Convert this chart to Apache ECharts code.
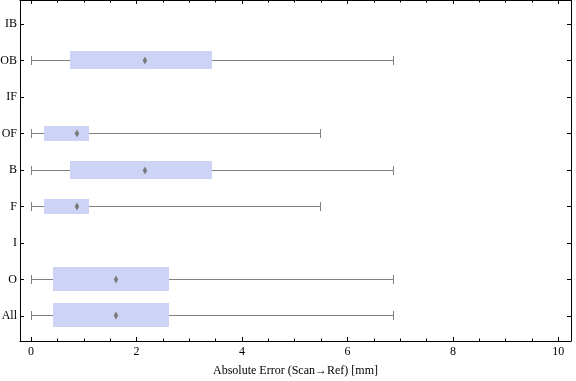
<!DOCTYPE html>
<html>
<head>
<meta charset="utf-8">
<script src="https://cdn.jsdelivr.net/npm/echarts@6/dist/echarts.min.js"></script>
<style>
html,body{margin:0;padding:0;background:#fff;}
#main{width:576px;height:381px;}
</style>
</head>
<body>
<div id="main"></div>
<script>
// Categories listed bottom to top
const categories = ['All', 'O', 'I', 'F', 'B', 'OF', 'IF', 'OB', 'IB'];
const whiskerLow  = [0,    0,    null, 0,     0,    0,     null, 0,    null];
const q1          = [0.41, 0.41, null, 0.24,  0.735,0.24,  null, 0.735,null];
const median      = [1.61, 1.61, null, 0.87,  2.16, 0.87,  null, 2.16, null];
const q3          = [2.61, 2.61, null, 1.095, 3.43, 1.095, null, 3.43, null];
const whiskerHigh = [6.86, 6.86, null, 5.48,  6.86, 5.48,  null, 6.86, null];
const xTickLabels = [0, 2, 4, 6, 8, 10];
const xMinorTicks = [0.5, 1, 1.5, 2.5, 3, 3.5, 4.5, 5, 5.5, 6.5, 7, 7.5, 8.5, 9, 9.5];

// style: relative box thickness per category (fraction of category spacing)
const boxThickness = {All: 0.66, O: 0.66, F: 0.41, OF: 0.41, B: 0.5, OB: 0.5};

const data = [];
categories.forEach((c, i) => {
  if (whiskerLow[i] !== null) {
    data.push([i, whiskerLow[i], q1[i], median[i], q3[i], whiskerHigh[i]]);
  }
});

const FONT = '"Liberation Serif", "DejaVu Serif", serif';
const XMIN = -0.21, XMAX = 10.24;
const YMIN = -0.685, YMAX = 8.658;
const catIdx = categories.map((c, i) => i);

function renderItem(params, api) {
  const i = api.value(0);
  const pLo = api.coord([api.value(1), i]);
  const pQ1 = api.coord([api.value(2), i]);
  const pMed = api.coord([api.value(3), i]);
  const pQ3 = api.coord([api.value(4), i]);
  const pHi = api.coord([api.value(5), i]);
  const band = Math.abs(api.size([0, 1])[1]);
  const y = Math.floor(pLo[1]) + 0.5;
  const h = boxThickness[categories[i]] * band;
  const xl = Math.round(pLo[0]) + 0.5;
  const xh = Math.round(pHi[0]) + 0.5;
  const grey = '#808080';
  return {
    type: 'group',
    children: [
      {type: 'line', shape: {x1: xl, y1: y, x2: xh, y2: y}, style: {stroke: grey, lineWidth: 1}},
      {type: 'line', shape: {x1: xl, y1: y - 4.5, x2: xl, y2: y + 4.5}, style: {stroke: grey, lineWidth: 1}},
      {type: 'line', shape: {x1: xh, y1: y - 4.5, x2: xh, y2: y + 4.5}, style: {stroke: grey, lineWidth: 1}},
      {type: 'rect', shape: {x: Math.round(pQ1[0]), y: Math.round(y - h / 2), width: Math.round(pQ3[0]) - Math.round(pQ1[0]), height: Math.round(h)},
        style: {fill: '#ccd3f4'}},
      {type: 'polygon', shape: {points: [[pMed[0], y - 4], [pMed[0] + 2.2, y], [pMed[0], y + 4], [pMed[0] - 2.2, y]]},
        style: {fill: '#7a7a7a'}}
    ]
  };
}

const chart = echarts.init(document.getElementById('main'), null, {renderer: 'canvas'});
chart.setOption({
  animation: false,
  backgroundColor: '#fff',
  grid: {left: 20, right: 5, top: 0, bottom: 40, containLabel: false, outerBoundsMode: 'none'},
  xAxis: [
    {
      type: 'value', position: 'bottom', min: XMIN, max: XMAX,
      axisLine: {show: true, onZero: false, lineStyle: {color: '#000', width: 1}},
      axisTick: {show: true, inside: true, length: 4, customValues: xTickLabels, lineStyle: {color: '#000'}},
      axisLabel: {show: true, customValues: xTickLabels, margin: 5, color: '#000', fontFamily: FONT, fontSize: 12},
      splitLine: {show: false},
      name: 'Absolute Error (Scan\u2192Ref) [mm]', nameLocation: 'middle', nameGap: 24,
      nameTextStyle: {color: '#000', fontFamily: FONT, fontSize: 12}
    },
    {
      type: 'value', position: 'bottom', min: XMIN, max: XMAX,
      axisLine: {show: false, onZero: false},
      axisTick: {show: true, inside: true, length: 2.5, customValues: xMinorTicks, lineStyle: {color: '#000'}},
      axisLabel: {show: false}, splitLine: {show: false}
    },
    {
      type: 'value', position: 'top', min: XMIN, max: XMAX,
      axisLine: {show: true, onZero: false, lineStyle: {color: '#000', width: 1}},
      axisTick: {show: true, inside: true, length: 4, customValues: xTickLabels, lineStyle: {color: '#000'}},
      axisLabel: {show: false}, splitLine: {show: false}
    },
    {
      type: 'value', position: 'top', min: XMIN, max: XMAX,
      axisLine: {show: false, onZero: false},
      axisTick: {show: true, inside: true, length: 2.5, customValues: xMinorTicks, lineStyle: {color: '#000'}},
      axisLabel: {show: false}, splitLine: {show: false}
    }
  ],
  yAxis: [
    {
      type: 'value', position: 'left', min: YMIN, max: YMAX,
      axisLine: {show: true, onZero: false, lineStyle: {color: '#000', width: 1}},
      axisTick: {show: true, inside: true, length: 4, customValues: catIdx, lineStyle: {color: '#000'}},
      axisLabel: {show: true, customValues: catIdx, margin: 3, color: '#000', fontFamily: FONT, fontSize: 12,
        formatter: v => categories[Math.round(v)]},
      splitLine: {show: false}
    },
    {
      type: 'value', position: 'right', min: YMIN, max: YMAX,
      axisLine: {show: true, onZero: false, lineStyle: {color: '#000', width: 1}},
      axisTick: {show: true, inside: true, length: 4, customValues: catIdx, lineStyle: {color: '#000'}},
      axisLabel: {show: false}, splitLine: {show: false}
    }
  ],
  series: [{
    type: 'custom',
    xAxisIndex: 0, yAxisIndex: 0,
    renderItem: renderItem,
    data: data,
    clip: false
  }]
});
</script>
</body>
</html>
